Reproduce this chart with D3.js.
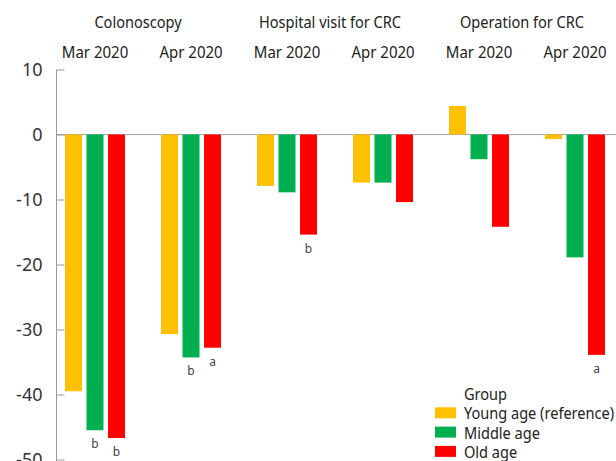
<!DOCTYPE html>
<html>
<head>
<meta charset="utf-8">
<script src="https://cdn.jsdelivr.net/npm/d3@7"></script>
<style>
  body { margin: 0; background: #fff; }
  svg { display: block; font-family: "Noto Sans", sans-serif; }
</style>
</head>
<body>
<svg id="chart"></svg>
<script>
const width = 616;
const height = 461;

// measures and months
const measures = ["Colonoscopy", "Hospital visit for CRC", "Operation for CRC"];
const months = ["Mar 2020", "Apr 2020"];
const groups = ["Young age (reference)", "Middle age", "Old age"];
const colors = ["#FFC000", "#00B050", "#FF0000"];

// percent change, one array per age group, in order:
// Colonoscopy Mar, Apr, Hospital Mar, Apr, Operation Mar, Apr
const youngValues = [-39.5, -30.7, -7.9, -7.4, 4.4, -0.7];
const middleValues = [-45.5, -34.3, -8.9, -7.4, -3.8, -18.9];
const oldValues = [-46.7, -32.8, -15.4, -10.4, -14.2, -33.9];

// significance letters under bars
const youngMarks = ["", "", "", "", "", ""];
const middleMarks = ["b", "b", "", "", "", ""];
const oldMarks = ["b", "a", "b", "", "", "a"];

const yTicks = [10, 0, -10, -20, -30, -40, -50];

const seriesValues = [youngValues, middleValues, oldValues];
const seriesMarks = [youngMarks, middleMarks, oldMarks];

// the font in the original is a bit narrower, squeeze labels a little
const squeeze = 0.91;

const slots = [];
measures.forEach((m) => months.forEach((mo) => slots.push(m + "|" + mo)));

const data = [];
slots.forEach((s, i) => {
  groups.forEach((g, j) => {
    data.push({ slot: s, group: g, value: seriesValues[j][i], mark: seriesMarks[j][i], color: colors[j] });
  });
});

const svg = d3.select("#chart").attr("width", width).attr("height", height);

const xScale = d3.scaleBand()
  .domain(slots)
  .range([65, 605])
  .paddingInner(0.375)
  .paddingOuter(0);

const xInner = d3.scaleBand()
  .domain(groups)
  .range([0, xScale.bandwidth()])
  .paddingInner(0.21)
  .paddingOuter(0);

const yScale = d3.scaleLinear()
  .domain([-50, 10])
  .range([459.5, 69.5]);

// zero line
svg.append("line")
  .attr("x1", 56).attr("x2", width)
  .attr("y1", yScale(0)).attr("y2", yScale(0))
  .attr("stroke", "#a6a6a6")
  .attr("stroke-width", 1.2);

// bars
svg.append("g")
  .selectAll("rect")
  .data(data)
  .enter()
  .append("rect")
  .attr("x", (d) => xScale(d.slot) + xInner(d.group))
  .attr("width", xInner.bandwidth())
  .attr("y", (d) => yScale(Math.max(0, d.value)))
  .attr("height", (d) => Math.abs(yScale(d.value) - yScale(0)))
  .attr("fill", (d) => d.color);

// letters
svg.append("g")
  .selectAll("text")
  .data(data.filter((d) => d.mark))
  .enter()
  .append("text")
  .attr("x", (d) => xScale(d.slot) + xInner(d.group) + xInner.bandwidth() / 2)
  .attr("y", (d) => yScale(d.value) + 18)
  .attr("text-anchor", "middle")
  .attr("font-size", 12)
  .attr("fill", "#444")
  .text((d) => d.mark);

// y axis
const yAxis = d3.axisLeft(yScale)
  .tickValues(yTicks)
  .tickSize(-8)
  .tickPadding(14)
  .tickFormat((d) => d);

const gy = svg.append("g")
  .attr("transform", "translate(56.5, 0)")
  .call(yAxis);
gy.select(".domain").attr("stroke", "#999").attr("d", "M0," + yScale(10) + "V" + height);
gy.selectAll(".tick line").attr("stroke", "#999");
gy.selectAll(".tick text")
  .attr("font-size", 18)
  .attr("fill", "#333")
  .attr("font-family", "Noto Sans, sans-serif");

// month labels
svg.append("g")
  .selectAll("text")
  .data(slots)
  .enter()
  .append("text")
  .attr("transform", (d) => "translate(" + (xScale(d) + xScale.bandwidth() / 2) + ",58) scale(" + squeeze + ",1)")
  .attr("text-anchor", "middle")
  .attr("font-size", 16.5)
  .attr("fill", "#222")
  .text((d) => d.split("|")[1]);

// measure labels
svg.append("g")
  .selectAll("text")
  .data(measures)
  .enter()
  .append("text")
  .attr("transform", (d) => {
    const a = xScale(d + "|" + months[0]);
    const b = xScale(d + "|" + months[1]) + xScale.bandwidth();
    return "translate(" + ((a + b) / 2 - 5) + ",28) scale(" + squeeze + ",1)";
  })
  .attr("text-anchor", "middle")
  .attr("font-size", 16)
  .attr("fill", "#222")
  .text((d) => d);

// legend
const legend = svg.append("g").attr("transform", "translate(435, 400)");
legend.append("text")
  .attr("transform", "translate(29,0) scale(" + squeeze + ",1)")
  .attr("font-size", 16)
  .attr("fill", "#222")
  .text("Group");
const items = legend.selectAll(".item")
  .data(groups)
  .enter()
  .append("g")
  .attr("transform", (d, i) => "translate(0," + (19.3 * (i + 1)) + ")");
items.append("rect")
  .attr("x", 0).attr("y", -12)
  .attr("width", 21).attr("height", 11)
  .attr("fill", (d, i) => colors[i]);
items.append("text")
  .attr("transform", "translate(29,0) scale(" + squeeze + ",1)")
  .attr("font-size", 16)
  .attr("fill", "#222")
  .text((d) => d);
</script>
</body>
</html>
